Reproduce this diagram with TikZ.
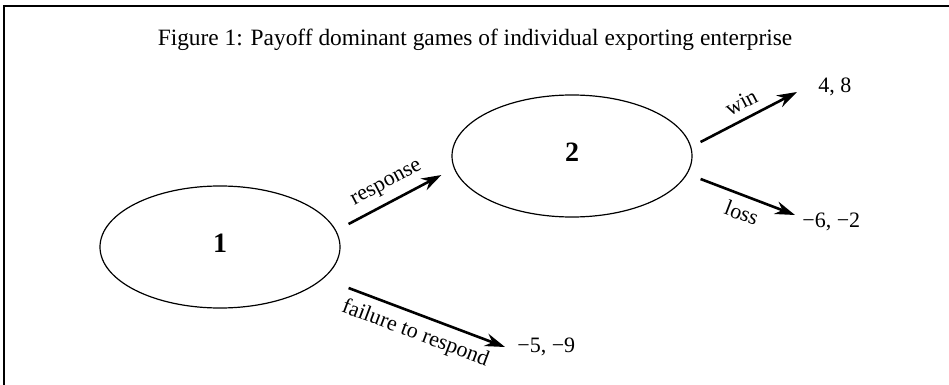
\documentclass[tikz,border=0pt]{standalone}
\usepackage{fontspec}
\setmainfont{Liberation Serif}
\usepackage{tikz}
\usetikzlibrary{shapes.geometric, arrows.meta, positioning, calc}

\begin{document}
\begin{tikzpicture}[
        x=0.5pt, y=-0.5pt,
        >={Stealth[length=10pt, width=6.5pt]},
        font=\fontsize{11}{13}\selectfont,
        stage/.style={ellipse, draw, line width=0.6pt, minimum width=120pt, minimum height=61pt, inner sep=0pt, font=\fontsize{14}{15}\selectfont\bfseries},
        payoff/.style={anchor=west, inner sep=0pt},
        move/.style={->, line width=1.3pt},
        tag/.style={sloped, inner sep=4pt}
    ]
    \useasboundingbox (0,0) rectangle (949,385);

    % --- frame and caption ---
    \draw[line width=1pt] (4,385) -- (4,6) -- (949,6);
    \node (title) at (475,40) {\fontsize{11.7}{14}\selectfont Figure 1: Payoff dominant games of individual exporting enterprise};

    % --- decision nodes ---
    \node (one) [stage] at (220,247) {\raisebox{4pt}{1}};
    \node (two) [stage] at (572,156) {\raisebox{4pt}{2}};

    % --- outcomes ---
    \node (win) [payoff] at (818,87) {4, 8};
    \node (lose) [payoff] at (802,222) {−6, −2};
    \node (fail) [payoff] at (517,347) {−5, −9};

    % --- moves ---
    \draw[move] ([shift={(8,-23)}]one.east) -- node[tag, above] {response} ([shift={(-10,19)}]two.west);
    \draw[move] ([shift={(8,41)}]one.east) -- node[tag, below, pos=0.47] {failure to respond} ([shift={(-12,0)}]fail.west);
    \draw[move] ([shift={(8,-14)}]two.east) -- node[tag, above] {win} ([shift={(-21,5)}]win.west);
    \draw[move] ([shift={(8,23)}]two.east) -- node[tag, below] {loss} ([shift={(-7,-7)}]lose.west);

\end{tikzpicture}
\end{document}
